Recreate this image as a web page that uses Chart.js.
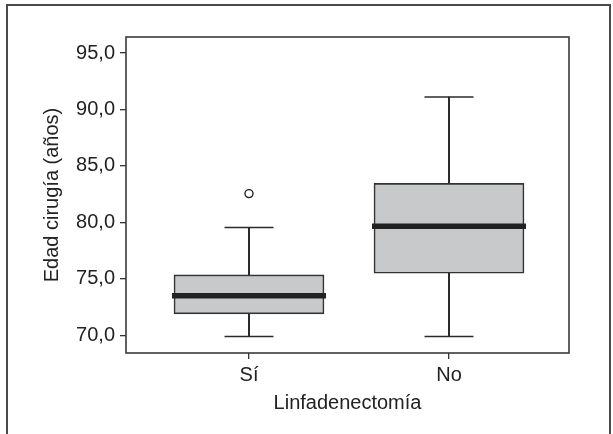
<!DOCTYPE html>
<html>
<head>
<meta charset="utf-8">
<script src="https://cdn.jsdelivr.net/npm/chart.js@4/dist/chart.umd.min.js"></script>
<style>
    html, body { margin: 0; padding: 0; background: #fff; }
    #wrap { position: relative; width: 613px; height: 434px; overflow: hidden; }
    #frame {
        position: absolute; left: 6px; top: 4px; width: 605px; height: 500px;
        border: 2px solid #4a4a4a; box-sizing: border-box;
    }
    canvas { position: absolute; left: 0; top: 0; }
</style>
</head>
<body>
<div id="wrap">
    <div id="frame"></div>
    <canvas id="boxChart" width="613" height="434"></canvas>
</div>
<script>
// datos del gráfico de cajas
const categories = ['Sí', 'No'];
const mins = [69.9, 69.9];
const q1s = [71.9, 75.5];
const medians = [73.5, 79.65];
const q3s = [75.35, 83.45];
const maxs = [79.55, 91.1];
const outliers = [[82.55], []];
const yTicks = [70, 75, 80, 85, 90, 95];

const ink = '#2b2b2b';

// posición de cada categoría en el eje x lineal
const pos = categories.map((c, i) => i + 1);

// marco completo alrededor del área del gráfico
const framePlugin = {
    id: 'plotFrame',
    afterDatasetsDraw(chart) {
        const a = chart.chartArea;
        const ctx = chart.ctx;
        ctx.save();
        ctx.strokeStyle = '#3a3a3a';
        ctx.lineWidth = 1.6;
        ctx.strokeRect(a.left, a.top, a.right - a.left, a.bottom - a.top);
        ctx.restore();
    }
};

Chart.defaults.font.family = "'Liberation Sans', Arial, sans-serif";
Chart.defaults.font.size = 20;
Chart.defaults.color = '#222';

new Chart(document.getElementById('boxChart'), {
    type: 'bar',
    data: {
        datasets: [
            {
                // bigotes superiores
                data: pos.map((x, i) => ({ x: x, y: [q3s[i], maxs[i]] })),
                backgroundColor: ink,
                borderWidth: 0,
                barThickness: 1.4,
                grouped: false,
                order: 6
            },
            {
                // bigotes inferiores
                data: pos.map((x, i) => ({ x: x, y: [mins[i], q1s[i]] })),
                backgroundColor: ink,
                borderWidth: 0,
                barThickness: 1.4,
                grouped: false,
                order: 6
            },
            {
                // cajas (Q1-Q3)
                data: pos.map((x, i) => ({ x: x, y: [q1s[i], q3s[i]] })),
                backgroundColor: '#c8c9cb',
                borderColor: '#333',
                borderWidth: 1.6,
                borderSkipped: false,
                barThickness: 150,
                grouped: false,
                order: 5
            },
            {
                // medianas
                type: 'line',
                showLine: false,
                data: pos.map((x, i) => ({ x: x, y: medians[i] })),
                pointStyle: 'line',
                pointRadius: 77,
                borderColor: '#222',
                borderWidth: 5.5,
                clip: false,
                order: 4
            },
            {
                // extremos de los bigotes
                type: 'line',
                showLine: false,
                data: pos.flatMap((x, i) => [{ x: x, y: mins[i] }, { x: x, y: maxs[i] }]),
                pointStyle: 'line',
                pointRadius: 24.5,
                borderColor: ink,
                borderWidth: 1.5,
                clip: false,
                order: 3
            },
            {
                // valores atípicos
                type: 'line',
                showLine: false,
                data: pos.flatMap((x, i) => outliers[i].map(v => ({ x: x, y: v }))),
                pointStyle: 'circle',
                pointRadius: 4,
                backgroundColor: '#fff',
                borderColor: '#222',
                borderWidth: 1.4,
                clip: false,
                order: 2
            }
        ]
    },
    options: {
        responsive: false,
        animation: false,
        events: [],
        layout: {
            autoPadding: false,
            padding: { top: 37, right: 44, left: 0, bottom: 0 }
        },
        plugins: {
            legend: { display: false },
            tooltip: { enabled: false }
        },
        scales: {
            x: {
                type: 'linear',
                offset: false,
                min: 0.385,
                max: 2.6,
                afterBuildTicks(scale) {
                    scale.ticks = pos.map(v => ({ value: v }));
                },
                afterFit(scale) { scale.height = 81; },
                border: { display: false },
                grid: {
                    offset: false,
                    drawOnChartArea: false,
                    drawTicks: true,
                    tickLength: 6,
                    color: '#333',
                    lineWidth: 1.3
                },
                ticks: {
                    padding: 4,
                    maxRotation: 0,
                    callback: (v) => categories[v - 1] || ''
                },
                title: {
                    display: true,
                    text: 'Linfadenectomía',
                    font: { size: 20 },
                    padding: { top: 0, bottom: 19 }
                }
            },
            y: {
                min: 68.43,
                max: 96.42,
                afterBuildTicks(scale) {
                    scale.ticks = yTicks.map(v => ({ value: v }));
                },
                afterFit(scale) { scale.width = 126; },
                border: { display: false },
                grid: {
                    drawOnChartArea: false,
                    drawTicks: true,
                    tickLength: 6,
                    color: '#333',
                    lineWidth: 1.3
                },
                ticks: {
                    padding: 5,
                    callback: (v) => v.toFixed(1).replace('.', ',')
                },
                title: {
                    display: true,
                    text: 'Edad cirugía (años)',
                    font: { size: 20 },
                    padding: { top: 40, bottom: 0 }
                }
            }
        }
    },
    plugins: [framePlugin]
});
</script>
</body>
</html>
